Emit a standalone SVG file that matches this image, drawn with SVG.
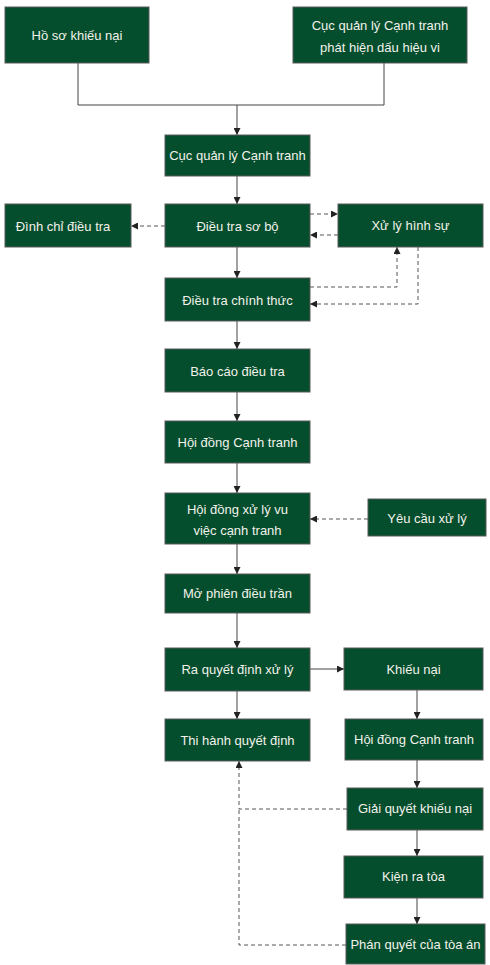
<svg xmlns="http://www.w3.org/2000/svg" width="490" height="965" viewBox="0 0 490 965">
<defs>
<style>
.box{fill:#044d2d;stroke:#5a5a5a;stroke-width:1}
.t{font-family:"Liberation Sans",Arial,sans-serif;font-size:13px;fill:#f2f2ea;text-anchor:middle;dominant-baseline:central}
.s{fill:none;stroke:#444;stroke-width:1}
.d{fill:none;stroke:#555;stroke-width:1;stroke-dasharray:4 3}
</style>
<marker id="a" viewBox="0 0 10 10" refX="10" refY="5" markerWidth="7" markerHeight="7" markerUnits="userSpaceOnUse" orient="auto">
<path d="M0,0 L10,5 L0,10 z" fill="#222"/>
</marker>
</defs>
<rect width="490" height="965" fill="#fff"/>
<g id="connectors">
<path class="s" d="M78,63 V105 H384 V63"/>
<path class="s" d="M237,105 V135" marker-end="url(#a)"/>
<path class="s" d="M237,176 V204" marker-end="url(#a)"/>
<path class="d" d="M165,226 H131" marker-end="url(#a)"/>
<path class="d" d="M310,214 H338" marker-end="url(#a)"/>
<path class="d" d="M338,235 H310" marker-end="url(#a)"/>
<path class="s" d="M237,247 V278" marker-end="url(#a)"/>
<path class="d" d="M310,287 H397 V247" marker-end="url(#a)"/>
<path class="d" d="M418,247 V304 H310" marker-end="url(#a)"/>
<path class="s" d="M237,321 V349" marker-end="url(#a)"/>
<path class="s" d="M237,392 V421" marker-end="url(#a)"/>
<path class="s" d="M237,463 V493" marker-end="url(#a)"/>
<path class="d" d="M368,519 H310" marker-end="url(#a)"/>
<path class="s" d="M237,544 V574" marker-end="url(#a)"/>
<path class="s" d="M237,613 V648" marker-end="url(#a)"/>
<path class="s" d="M310,669 H344" marker-end="url(#a)"/>
<path class="s" d="M237,691 V719" marker-end="url(#a)"/>
<path class="s" d="M417,690 V719" marker-end="url(#a)"/>
<path class="s" d="M417,760 V788" marker-end="url(#a)"/>
<path class="d" d="M347,809 H239 V761" marker-end="url(#a)"/>
<path class="s" d="M417,830 V856" marker-end="url(#a)"/>
<path class="s" d="M417,898 V924" marker-end="url(#a)"/>
<path class="d" d="M346,945 H239 V809"/>
</g>
<g id="n1"><rect class="box" x="5" y="7" width="144" height="56"/><text class="t" x="77" y="35">Hồ sơ khiếu nại</text></g>
<g id="n2"><rect class="box" x="293" y="7" width="174" height="56"/><text class="t" x="380" y="25">Cục quản lý Cạnh tranh</text><text class="t" x="380" y="47">phát hiện dấu hiệu vi</text></g>
<g id="n3"><rect class="box" x="165" y="135" width="145" height="41"/><text class="t" x="237.5" y="155">Cục quản lý Cạnh tranh</text></g>
<g id="n4"><rect class="box" x="165" y="204" width="145" height="43"/><text class="t" x="237.5" y="226">Điều tra sơ bộ</text></g>
<g id="n5"><rect class="box" x="5" y="204" width="126" height="43"/><text class="t" x="63" y="226">Đình chỉ điều tra</text></g>
<g id="n6"><rect class="box" x="338" y="204" width="145" height="43"/><text class="t" x="410.5" y="225">Xử lý hình sự</text></g>
<g id="n7"><rect class="box" x="165" y="278" width="145" height="43"/><text class="t" x="237.5" y="300">Điều tra chính thức</text></g>
<g id="n8"><rect class="box" x="165" y="349" width="145" height="43"/><text class="t" x="237.5" y="371">Báo cáo điều tra</text></g>
<g id="n9"><rect class="box" x="165" y="421" width="145" height="42"/><text class="t" x="237.5" y="442">Hội đồng Cạnh tranh</text></g>
<g id="n10"><rect class="box" x="165" y="493" width="145" height="51"/><text class="t" x="237.5" y="509">Hội đồng xử lý vu</text><text class="t" x="237.5" y="530">việc cạnh tranh</text></g>
<g id="n11"><rect class="box" x="368" y="499" width="118" height="37"/><text class="t" x="427" y="518">Yêu cầu xử lý</text></g>
<g id="n12"><rect class="box" x="165" y="574" width="145" height="39"/><text class="t" x="237.5" y="593">Mở phiên điều trần</text></g>
<g id="n13"><rect class="box" x="165" y="648" width="145" height="43"/><text class="t" x="237.5" y="669">Ra quyết định xử lý</text></g>
<g id="n14"><rect class="box" x="344" y="648" width="139" height="42"/><text class="t" x="413.5" y="669">Khiếu nại</text></g>
<g id="n15"><rect class="box" x="165" y="719" width="145" height="42"/><text class="t" x="237.5" y="740">Thi hành quyết định</text></g>
<g id="n16"><rect class="box" x="345" y="719" width="138" height="41"/><text class="t" x="414" y="739">Hội đồng Cạnh tranh</text></g>
<g id="n17"><rect class="box" x="347" y="788" width="136" height="42"/><text class="t" x="415" y="808">Giải quyết khiếu nại</text></g>
<g id="n18"><rect class="box" x="344" y="856" width="139" height="42"/><text class="t" x="413.5" y="876">Kiện ra tòa</text></g>
<g id="n19"><rect class="box" x="346" y="924" width="139" height="40"/><text class="t" x="415.5" y="944">Phán quyết của tòa án</text></g>
</svg>
